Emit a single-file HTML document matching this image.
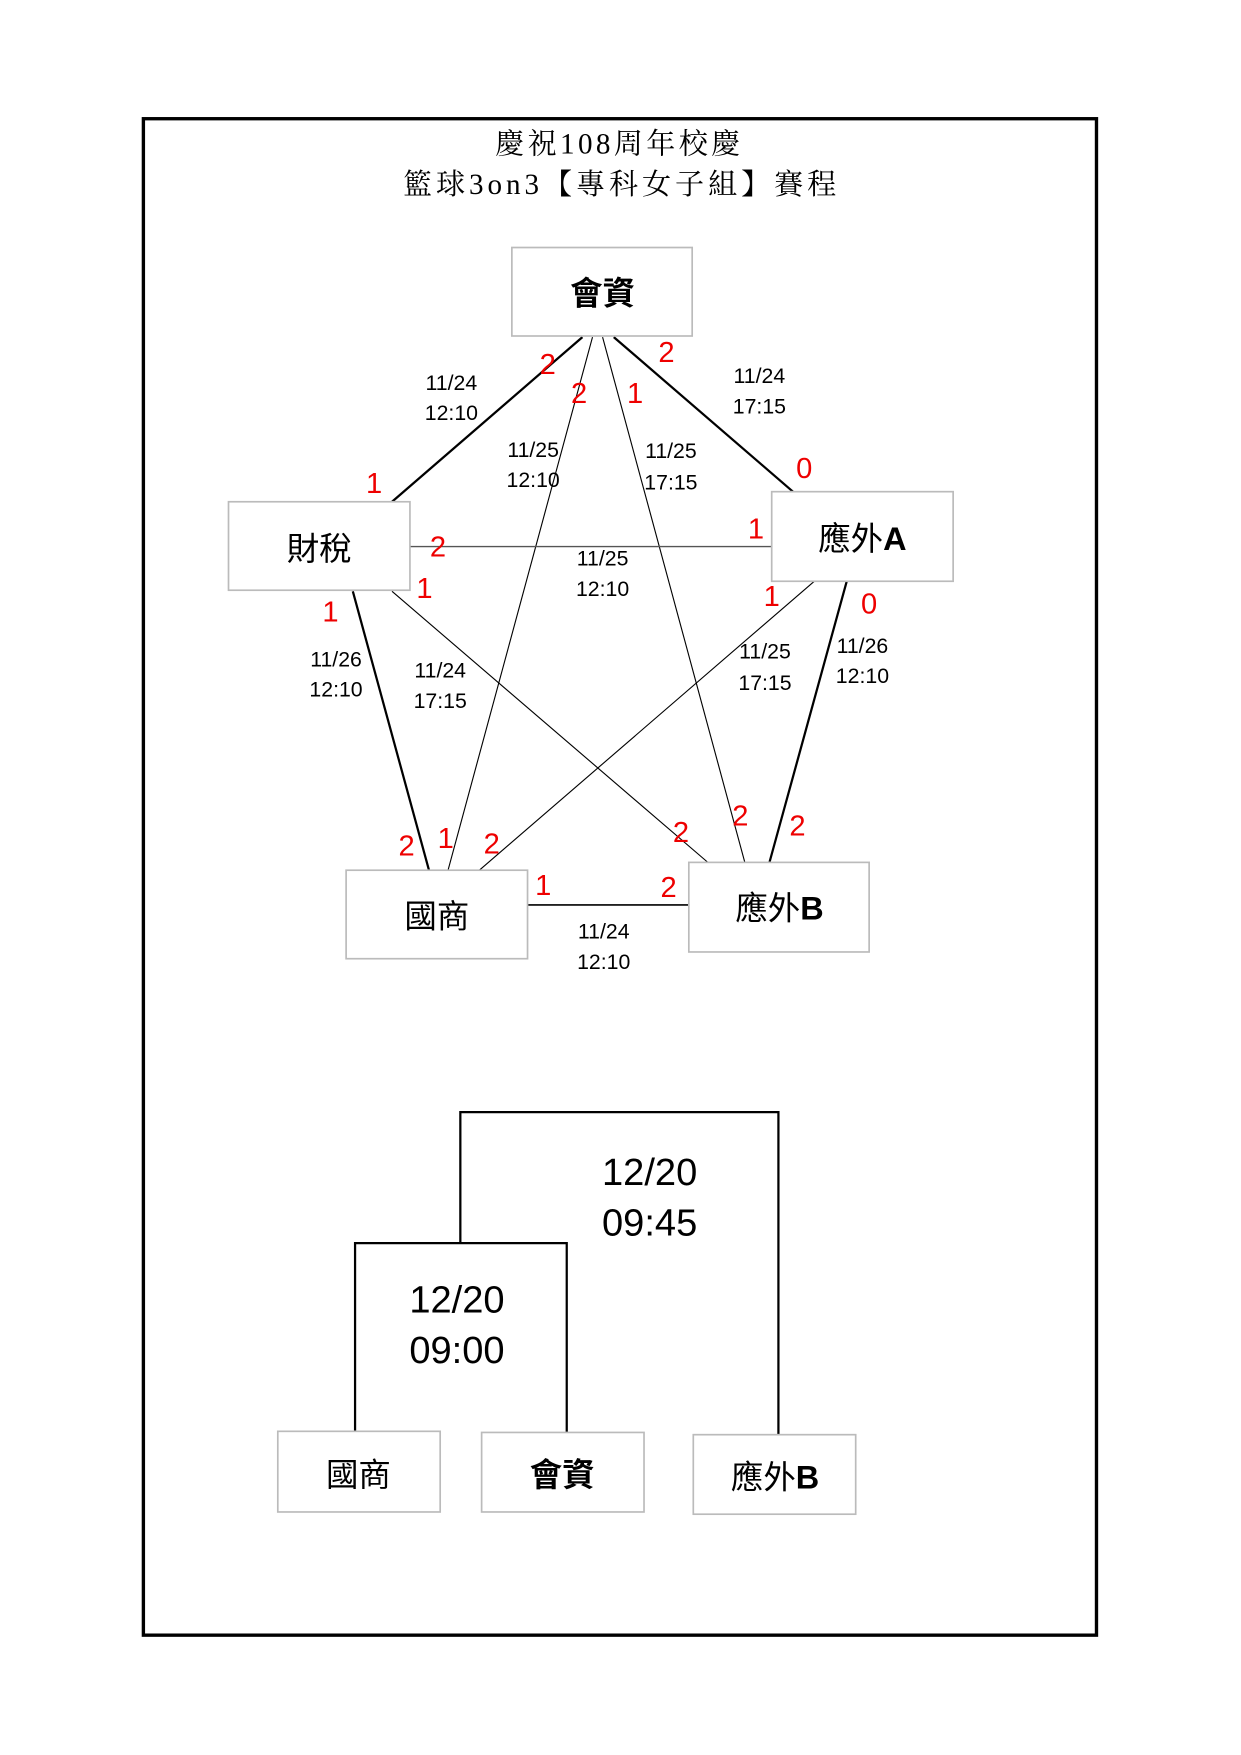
<!DOCTYPE html>
<html><head><meta charset="utf-8"><style>
html,body{margin:0;padding:0;background:#fff;}
svg{display:block;}
.r{fill:#e00;font-family:"Liberation Sans",sans-serif;font-size:26px;text-anchor:middle;}
.d{font-family:"Liberation Sans",sans-serif;font-size:19px;text-anchor:middle;fill:#000;}
.n{font-family:"Liberation Sans","Noto Sans CJK TC",sans-serif;font-size:29px;text-anchor:middle;fill:#000;}
.b{fill:#fff;stroke:#bbb;stroke-width:1.5;}
</style></head><body>
<svg width="1241" height="1755" viewBox="0 0 1108 1567" xmlns="http://www.w3.org/2000/svg">
<rect x="0" y="0" width="1108" height="1567" fill="#fff"/>
<rect x="128" y="106" width="851" height="1354" fill="none" stroke="#000" stroke-width="3"/>
<text x="553" y="137" font-family="'Liberation Serif','Noto Serif CJK SC',serif" font-size="26" letter-spacing="3" text-anchor="middle">慶祝108周年校慶</text>
<text x="555" y="173" font-family="'Liberation Serif','Noto Serif CJK SC',serif" font-size="26" letter-spacing="3.5" text-anchor="middle">籃球3on3【專科女子組】賽程</text>
<g stroke="#000" fill="none">
<line x1="350" y1="448" x2="520" y2="301" stroke-width="2"/>
<line x1="548" y1="301" x2="708" y2="439" stroke-width="2"/>
<line x1="529" y1="301" x2="400" y2="777" stroke-width="1"/>
<line x1="538" y1="301" x2="665" y2="770" stroke-width="1"/>
<line x1="366" y1="488" x2="689" y2="488" stroke-width="1.2" stroke="#555"/>
<line x1="350" y1="528" x2="632" y2="770" stroke-width="1"/>
<line x1="315" y1="528" x2="383" y2="777" stroke-width="2"/>
<line x1="727" y1="519" x2="428" y2="777" stroke-width="1"/>
<line x1="756" y1="519" x2="687" y2="770" stroke-width="2"/>
<line x1="471" y1="808" x2="615" y2="808" stroke-width="1.5"/>
</g>
<rect class="b" x="457" y="221" width="161" height="79"/>
<rect class="b" x="204" y="448" width="162" height="79"/>
<rect class="b" x="689" y="439" width="162" height="80"/>
<rect class="b" x="309" y="777" width="162" height="79"/>
<rect class="b" x="615" y="770" width="161" height="80"/>
<text class="n" x="538" y="272" font-weight="bold">會資</text>
<text class="n" x="285" y="500">財稅</text>
<text class="n" x="770" y="491">應外<tspan font-weight="bold">A</tspan></text>
<text class="n" x="390" y="828">國商</text>
<text class="n" x="696" y="821">應外<tspan font-weight="bold">B</tspan></text>
<g class="d">
<text x="403" y="348">11/24</text><text x="403" y="375">12:10</text>
<text x="678" y="342">11/24</text><text x="678" y="369">17:15</text>
<text x="476" y="408">11/25</text><text x="476" y="435">12:10</text>
<text x="599" y="409">11/25</text><text x="599" y="437">17:15</text>
<text x="538" y="505">11/25</text><text x="538" y="532">12:10</text>
<text x="300" y="595">11/26</text><text x="300" y="622">12:10</text>
<text x="393" y="605">11/24</text><text x="393" y="632">17:15</text>
<text x="683" y="588">11/25</text><text x="683" y="616">17:15</text>
<text x="770" y="583">11/26</text><text x="770" y="610">12:10</text>
<text x="539" y="838">11/24</text><text x="539" y="865">12:10</text>
</g>
<g class="r">
<text x="489" y="334">2</text><text x="517" y="360">2</text>
<text x="595" y="323">2</text><text x="567" y="360">1</text>
<text x="334" y="440">1</text><text x="718" y="427">0</text>
<text x="391" y="497">2</text><text x="675" y="481">1</text>
<text x="379" y="534">1</text><text x="689" y="541">1</text>
<text x="295" y="555">1</text><text x="776" y="548">0</text>
<text x="363" y="764">2</text><text x="398" y="757">1</text><text x="439" y="762">2</text>
<text x="608" y="752">2</text><text x="661" y="737">2</text><text x="712" y="746">2</text>
<text x="485" y="799">1</text><text x="597" y="801">2</text>
</g>
<g stroke="#000" stroke-width="2" fill="none">
<polyline points="411,1110 411,993 695,993 695,1281"/>
<polyline points="317,1278 317,1110 506,1110 506,1279"/>
</g>
<g font-family="'Liberation Sans',sans-serif" font-size="34" text-anchor="middle">
<text x="580" y="1058">12/20</text><text x="580" y="1103">09:45</text>
<text x="408" y="1172">12/20</text><text x="408" y="1217">09:00</text>
</g>
<rect class="b" x="248" y="1278" width="145" height="72"/>
<rect class="b" x="430" y="1279" width="145" height="71"/>
<rect class="b" x="619" y="1281" width="145" height="71"/>
<g class="n" font-size="33">
<text x="320" y="1327">國商</text>
<text x="502" y="1327" font-weight="bold">會資</text>
<text x="692" y="1329">應外<tspan font-weight="bold">B</tspan></text>
</g>
</svg>
</body></html>
